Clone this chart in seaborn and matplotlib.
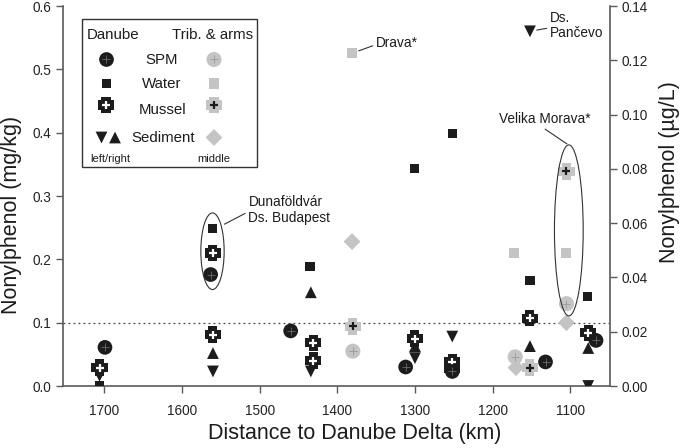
import matplotlib
matplotlib.use("Agg")
import matplotlib.pyplot as plt
import seaborn as sns
from matplotlib.path import Path
from matplotlib.patches import Ellipse, Rectangle

# ---------------- data ----------------
# Danube main stem, left axis (mg/kg)
spm_km = [1699, 1563, 1460, 1312, 1252, 1132, 1067]
spm_val = [0.061, 0.176, 0.087, 0.030, 0.023, 0.038, 0.072]

mussel_km = [1706, 1560, 1560, 1431, 1431, 1300, 1252, 1252, 1152, 1077]
mussel_val = [0.029, 0.210, 0.081, 0.068, 0.040, 0.075, 0.038, 0.027, 0.107, 0.084]

sed_left_km = [1706, 1560, 1434, 1300, 1252, 1152, 1077]
sed_left_val = [0.016, 0.023, 0.023, 0.044, 0.078, 0.560, 0.000]
sed_right_km = [1560, 1434, 1300, 1152, 1077]
sed_right_val = [0.052, 0.148, 0.063, 0.063, 0.060]

# Danube water, right axis (ug/L)
water_km = [1706, 1561, 1435, 1301, 1252, 1152, 1078]
water_val = [0.000, 0.058, 0.044, 0.080, 0.093, 0.039, 0.033]

# Tributaries & arms
trib_spm_km = [1380, 1171, 1105]
trib_spm_val = [0.055, 0.046, 0.130]
trib_water_km = [1381, 1172, 1106]
trib_water_val = [0.1226, 0.049, 0.049]
trib_mussel_km = [1380, 1152, 1105]
trib_mussel_val = [0.094, 0.029, 0.339]
trib_sed_km = [1381, 1170, 1105]
trib_sed_val = [0.228, 0.029, 0.100]

left_ticks = [0.0, 0.1, 0.2, 0.3, 0.4, 0.5, 0.6]
right_ticks = [0.00, 0.02, 0.04, 0.06, 0.08, 0.10, 0.12, 0.14]
x_ticks = [1700, 1600, 1500, 1400, 1300, 1200, 1100]

# ---------------- style ----------------
sns.set_style("ticks")
plt.rcParams["font.family"] = ["Liberation Sans", "DejaVu Sans"]

DARK = "#1c1c1c"
LIGHT = "#c4c4c4"
SPINE = "#5a5a5a"

W, H = 685, 448
fig = plt.figure(figsize=(W / 100, H / 100), dpi=100)
ax = fig.add_axes([63 / W, 1 - 386 / H, 547 / W, 380 / H])
ax2 = ax.twinx()

a = 0.55
cv = [(-a, 1), (a, 1), (a, a), (1, a), (1, -a), (a, -a), (a, -1), (-a, -1),
      (-a, -a), (-1, -a), (-1, a), (-a, a), (-a, 1)]
CROSS = Path(cv, [Path.MOVETO] + [Path.LINETO] * (len(cv) - 2) + [Path.CLOSEPOLY])


def draw(axis, xs, ys, kind, light=False, z=3, **extra):
    col = LIGHT if light else DARK
    if kind == "spm":
        sns.scatterplot(x=xs, y=ys, ax=axis, marker="o", s=118 if light else 112,
                        color=col, edgecolor="none", linewidth=0, zorder=z, **extra)
        sns.scatterplot(x=xs, y=ys, ax=axis, marker="+", s=28,
                        color="#9a9a9a" if light else "#6a6a6a", linewidth=0.6,
                        zorder=z + 0.1, **extra)
    elif kind == "water":
        sns.scatterplot(x=xs, y=ys, ax=axis, marker="s", s=52 if light else 44,
                        color=col, edgecolor="none", linewidth=0, zorder=z, **extra)
    elif kind == "mussel":
        sns.scatterplot(x=xs, y=ys, ax=axis, marker=CROSS, s=140,
                        color=col, edgecolor="none", linewidth=0, zorder=z, **extra)
        sns.scatterplot(x=xs, y=ys, ax=axis, marker="+", s=26,
                        color=DARK if light else "white", linewidth=1.6,
                        zorder=z + 0.1, **extra)
    elif kind == "down":
        sns.scatterplot(x=xs, y=ys, ax=axis, marker="v", s=72,
                        color=col, edgecolor="none", linewidth=0, zorder=z, **extra)
    elif kind == "up":
        sns.scatterplot(x=xs, y=ys, ax=axis, marker="^", s=72,
                        color=col, edgecolor="none", linewidth=0, zorder=z, **extra)
    elif kind == "sed":
        sns.scatterplot(x=xs, y=ys, ax=axis, marker="D", s=74,
                        color=col, edgecolor="none", linewidth=0, zorder=z, **extra)


# tributaries (drawn first, underneath)
draw(ax, trib_sed_km, trib_sed_val, "sed", light=True, z=2)
draw(ax, trib_spm_km, trib_spm_val, "spm", light=True, z=2)
draw(ax, trib_mussel_km, trib_mussel_val, "mussel", light=True, z=2)
draw(ax2, trib_water_km, trib_water_val, "water", light=True, z=2)

# Danube
draw(ax, sed_left_km, sed_left_val, "down", z=3)
draw(ax, sed_right_km, sed_right_val, "up", z=3)
draw(ax, mussel_km, mussel_val, "mussel", z=4)
draw(ax, spm_km, spm_val, "spm", z=5)
draw(ax2, water_km, water_val, "water", z=3)

# guide line at 0.1 mg/kg
ax.axhline(0.1, color="#444444", lw=0.9, ls=(0, (1.5, 2.5)), zorder=1)

# ellipses
ax.add_patch(Ellipse((1560.6, 0.2128), width=30, height=0.121, fill=False,
                     lw=0.8, edgecolor="#333333", zorder=6))
ax.add_patch(Ellipse((1102.0, 0.2457), width=37, height=0.270, fill=False,
                     lw=0.8, edgecolor="#333333", zorder=6))

# annotations
afs = 9.8
lineprops = dict(arrowstyle="-", color="#333333", lw=0.8, shrinkA=0, shrinkB=0)
ax.annotate("Dunaföldvár\nDs. Budapest", xy=(1545.2, 0.2555), xytext=(24, 14),
            textcoords="offset pixels", ha="left", va="center", fontsize=afs,
            color=DARK, linespacing=1.15,
            arrowprops=dict(lineprops, relpos=(0, 0.45)))
ax.annotate("Velika Morava*", xy=(1104.5, 0.3823), xytext=(-22, 25),
            textcoords="offset pixels", ha="center", va="center", fontsize=afs,
            color=DARK, arrowprops=dict(lineprops, relpos=(0.45, 0)))
ax2.annotate("Drava*", xy=(trib_water_km[0], trib_water_val[0]), xytext=(24, 10),
             textcoords="offset pixels", ha="left", va="center", fontsize=afs,
             color=DARK,
             arrowprops=dict(lineprops, relpos=(0, 0.4), shrinkB=5))
ax.annotate("Ds.\nPančevo", xy=(sed_left_km[5], sed_left_val[5]), xytext=(20, 6),
            textcoords="offset pixels", ha="left", va="center", fontsize=afs,
            color=DARK, linespacing=1.15,
            arrowprops=dict(lineprops, relpos=(0, 0.42), shrinkB=5))

# axes formatting
ax.set_xlim(1753, 1049)
ax.set_ylim(0, 0.6)
ax2.set_ylim(0, 0.14)
ax.set_xticks(x_ticks)
ax.set_xticklabels([str(t) for t in x_ticks])
ax.set_yticks(left_ticks)
ax.set_yticklabels([f"{t:.1f}" for t in left_ticks])
ax2.set_yticks(right_ticks)
ax2.set_yticklabels([f"{t:.2f}" for t in right_ticks])

for axis in (ax, ax2):
    for s in axis.spines.values():
        s.set_color(SPINE)
        s.set_linewidth(1.2)
    axis.spines["top"].set_visible(False)
    axis.tick_params(direction="out", length=5, width=1.0, color=SPINE,
                     labelsize=9.8, labelcolor="#222222")
ax.spines["right"].set_visible(False)
ax2.spines["left"].set_visible(False)
ax2.spines["bottom"].set_visible(False)
ax.tick_params(axis="x", pad=8)

ax.set_xlabel("Distance to Danube Delta (km)", fontsize=15.5, color=DARK)
ax.xaxis.set_label_coords((355 - 63) / 547, (386 - 433) / 380)
ax.set_ylabel("Nonylphenol (mg/kg)", fontsize=15.5, color=DARK)
ax.yaxis.set_label_coords((12 - 63) / 547, (386 - 215) / 380)
ax2.set_ylabel("Nonylphenol (µg/L)", fontsize=15.5, color=DARK, rotation=90)
ax2.yaxis.set_label_coords((670 - 63) / 547, (386 - 172) / 380)
ax.xaxis.label.set_va("center")
ax.yaxis.label.set_va("center")
ax2.yaxis.label.set_va("center")

# ---------------- legend (manual, in pixel space) ----------------
lax = fig.add_axes([0, 0, 1, 1], zorder=10)
lax.set_xlim(0, W)
lax.set_ylim(H, 0)
lax.axis("off")
lax.patch.set_alpha(0)
lax.add_patch(Rectangle((82, 19.5), 175, 148, fill=True, facecolor="white",
                        edgecolor="#333333", lw=1.0))
lfs = 10.8
lax.text(87, 35, "Danube", fontsize=lfs, ha="left", va="center", color=DARK)
lax.text(253, 35, "Trib. & arms", fontsize=lfs, ha="right", va="center", color=DARK)
lax.text(162, 59.5, "SPM", fontsize=lfs, ha="center", va="center", color=DARK)
lax.text(162, 83.5, "Water", fontsize=lfs, ha="center", va="center", color=DARK)
lax.text(163, 110.5, "Mussel", fontsize=lfs, ha="center", va="center", color=DARK)
lax.text(163, 137.5, "Sediment", fontsize=lfs, ha="center", va="center", color=DARK)
lax.text(110, 159, "left/right", fontsize=8, ha="center", va="center", color=DARK)
lax.text(214, 159, "middle", fontsize=8, ha="center", va="center", color=DARK)

draw(lax, [106.5], [59.5], "spm", z=12)
draw(lax, [214], [59.5], "spm", light=True, z=12)
draw(lax, [106.5], [83.5], "water", z=12)
draw(lax, [214], [83.5], "water", light=True, z=12)
draw(lax, [106], [105], "mussel", z=12)
draw(lax, [214], [105], "mussel", light=True, z=12)
draw(lax, [101.5], [137.5], "down", z=12)
draw(lax, [115], [137.5], "up", z=12)
draw(lax, [214], [137.5], "sed", light=True, z=12)
lax.set_xlim(0, W)
lax.set_ylim(H, 0)
lax.axis("off")

fig.savefig("out.png", dpi=100)
